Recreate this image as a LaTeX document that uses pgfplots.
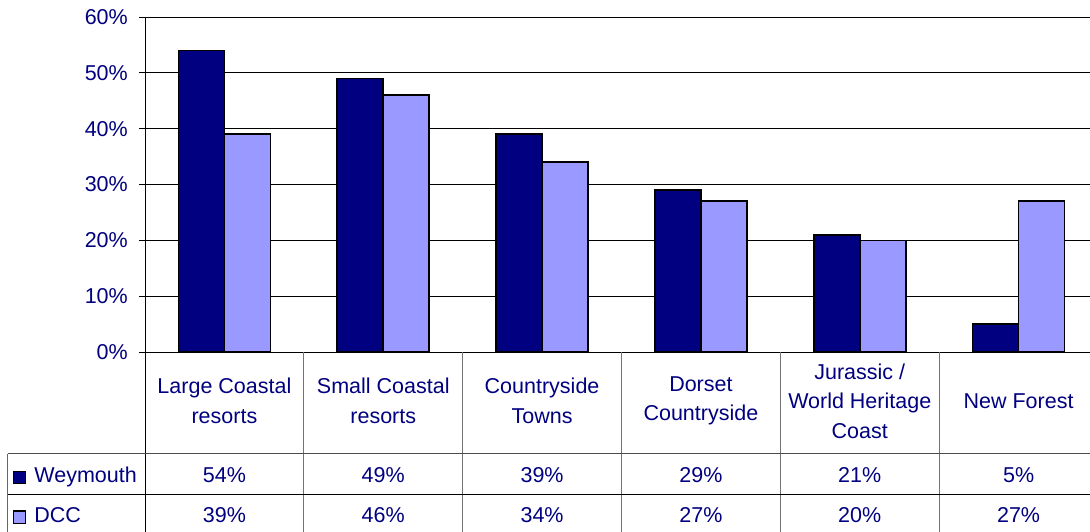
\documentclass[border=0pt]{standalone}
\usepackage{pgfplots}
\pgfplotsset{compat=1.18}
\usepackage{fontspec}
\setmainfont{Liberation Sans}
\definecolor{navytext}{RGB}{0,0,128}
\definecolor{wey}{RGB}{0,0,128}
\definecolor{dcc}{RGB}{153,153,255}
\newcommand{\chartfont}{\fontsize{21.5}{29.5}\selectfont}
\begin{document}
\begin{tikzpicture}
\useasboundingbox (0,0) rectangle (1090pt,531pt);
\clip (0,0) rectangle (1090pt,531pt);
\begin{axis}[
  at={(145pt,179pt)}, anchor=south west,
  scale only axis, width=953pt, height=335pt,
  xmin=-0.5, xmax=5.5, ymin=0, ymax=60,
  clip=false,
  axis x line*=bottom, axis y line*=left,
  axis line style={black, line width=1pt},
  ytick={0,10,...,60},
  yticklabel={\pgfmathprintnumber{\tick}\%},
  /pgf/number format/assume math mode=true,
  tick align=outside,
  major tick length=6pt,
  ytick style={black, line width=0.8pt},
  ymajorgrids, grid style={black, line width=0.8pt},
  yticklabel style={font=\chartfont, text=navytext, anchor=east, inner sep=0pt, xshift=-11pt},
  xtick={0,...,5},
  xtick style={draw=none},
  xticklabels={{Large Coastal\\resorts},{Small Coastal\\resorts},{Countryside\\Towns},{Dorset\\Countryside},{Jurassic /\\World Heritage\\Coast},{New Forest}},
  xticklabel style={font=\chartfont, text=navytext, align=center, anchor=center, inner sep=0pt, yshift=-43pt},
  legend style={at={(axis description cs:-0.1388,-0.3454)}, anchor=north west, draw=none, fill=none, inner sep=0pt, outer sep=0pt, row sep=23pt, column sep=8pt, font=\chartfont, text=navytext, nodes={inner sep=0pt, text height=15pt, text depth=0pt}},
  legend cell align=left,
]
\addplot[ybar, bar width=46pt, bar shift=-23pt, fill=wey, draw=black, line width=1.6pt,
  legend image code/.code={\draw[fill=wey, draw=black, line width=1.2pt] (0pt,-8.6pt) rectangle (12.5pt,3.9pt);}]
  coordinates {(0,54) (1,49) (2,39) (3,29) (4,21) (5,5)};
\addlegendentry{Weymouth}
\addplot[ybar, bar width=46pt, bar shift=23pt, fill=dcc, draw=black, line width=1.6pt,
  legend image code/.code={\draw[fill=dcc, draw=black, line width=1.2pt] (0pt,-8.6pt) rectangle (12.5pt,3.9pt);}]
  coordinates {(0,39) (1,46) (2,34) (3,27) (4,20) (5,27)};
\addlegendentry{DCC}
% table rows of values
\addplot[forget plot, only marks, mark=*, mark size=0pt, mark options={draw=none, fill=none},
  point meta=explicit, nodes near coords={\pgfmathprintnumber{\pgfplotspointmeta}\%},
  nodes near coords style={font=\chartfont, text=navytext, anchor=center, inner sep=0pt}]
  coordinates {(0,-22.03)[54] (1,-22.03)[49] (2,-22.03)[39] (3,-22.03)[29] (4,-22.03)[21] (5,-22.03)[5]};
\addplot[forget plot, only marks, mark=*, mark size=0pt, mark options={draw=none, fill=none},
  point meta=explicit, nodes near coords={\pgfmathprintnumber{\pgfplotspointmeta}\%},
  nodes near coords style={font=\chartfont, text=navytext, anchor=center, inner sep=0pt}]
  coordinates {(0,-29.14)[39] (1,-29.14)[46] (2,-29.14)[34] (3,-29.14)[27] (4,-29.14)[20] (5,-29.14)[27]};
% table grid
\draw[black, line width=1pt] (axis cs:-0.5,0) -- (axis cs:-0.5,-35);
\pgfplotsinvokeforeach{0.5,1.5,2.5,3.5,4.5}{
  \draw[black!55, line width=1pt] (axis cs:#1,0) -- (axis cs:#1,-35);
}
\draw[black!70, line width=1pt] (axis cs:-1.3627,-18.18) -- (axis cs:5.5,-18.18);
\draw[black, line width=1pt] (axis cs:-1.3627,-25.61) -- (axis cs:5.5,-25.61);
\draw[black!60, line width=1pt] (axis cs:-1.3627,-18.18) -- (axis cs:-1.3627,-35);
\end{axis}
\end{tikzpicture}
\end{document}
